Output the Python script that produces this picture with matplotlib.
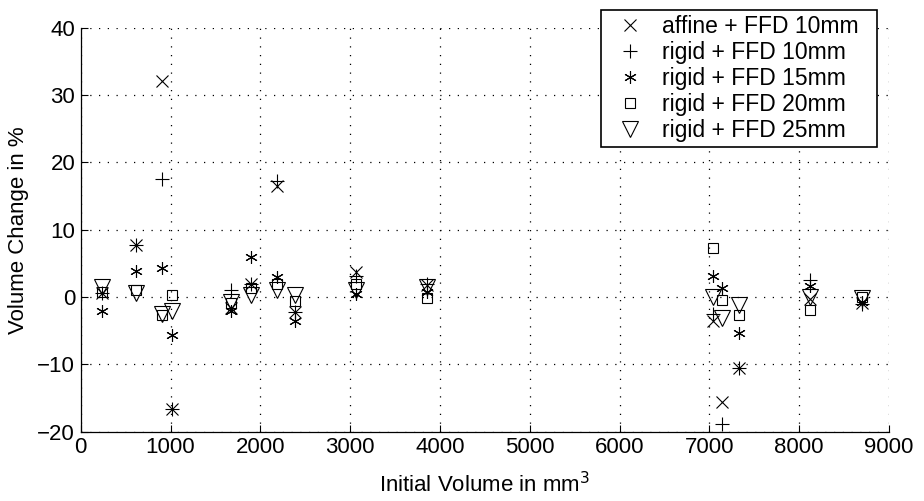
import matplotlib
matplotlib.use("Agg")
import matplotlib.pyplot as plt

plt.rcParams['font.family'] = ['Liberation Sans', 'DejaVu Sans']

volumes = [234, 612, 909, 1013, 1670, 1893, 2190, 2386, 3062, 3860,
           7045, 7138, 7335, 8121, 8697]
affine_10 = [0.6, 7.8, 32.1, -16.7, -1.6, 2.0, 16.5, -2.2, 3.7, 1.8,
             -3.5, -15.6, -10.5, -0.3, -0.9]
rigid_10 = [0.6, 7.8, 17.5, -16.7, 1.0, 2.0, 17.2, -2.2, 3.1, 2.0,
            -2.5, -18.9, -10.5, 2.5, -1.1]
rigid_15 = [-2.1, 3.8, 4.3, -5.7, -2.0, 6.0, 3.0, -3.6, 0.5, 0.8,
            3.1, 1.3, -5.3, 1.7, -0.7]
rigid_20 = [0.7, 1.1, -2.7, 0.25, -0.9, 1.4, 1.9, -0.6, 2.0, -0.2,
            7.3, -0.4, -2.6, -1.9, 0.0]
rigid_25 = [1.5, 0.6, -2.5, -2.0, -0.7, 0.25, 1.0, 0.25, 1.1, 1.5,
            0.0, -3.1, -1.2, 0.0, -0.2]

labels = ['affine + FFD 10mm', 'rigid + FFD 10mm', 'rigid + FFD 15mm',
          'rigid + FFD 20mm', 'rigid + FFD 25mm']
x_ticks = [0, 1000, 2000, 3000, 4000, 5000, 6000, 7000, 8000, 9000]
y_ticks = [-20, -10, 0, 10, 20, 30, 40]

fig = plt.figure(figsize=(9.24, 5.01), dpi=100)
ax = fig.add_axes([80.7/924, 1-431.7/501, (889-80.7)/924, (431.7-27.7)/501])

series = [affine_10, rigid_10, rigid_15, rigid_20, rigid_25]
markers = ['x', '+', (6, 2, 0), 's', 'v']
sizes = [8, 9.5, 9, 7.5, 11.5]
for vals, mk, ms, lab in zip(series, markers, sizes, labels):
    ax.plot(volumes, vals, linestyle='none', marker=mk, markersize=ms,
            markerfacecolor='none', markeredgecolor='black',
            markeredgewidth=0.8, color='black', label=lab)

ax.set_xlim(0, 9000)
ax.set_ylim(-20, 40)
ax.set_xticks(x_ticks)
ax.set_yticks(y_ticks)
ax.set_yticklabels(['\u221220', '\u221210', '0', '10', '20', '30', '40'])
ax.tick_params(direction='in', length=5, width=0.8, labelsize=16, colors='black', pad=4)
ax.spines['top'].set_visible(False)
ax.spines['right'].set_visible(False)
for s in ['left', 'bottom']:
    ax.spines[s].set_linewidth(0.9)
ax.grid(True, linestyle=(0, (1, 6)), linewidth=0.9, color='black')
ax.set_axisbelow(True)

ax.set_xlabel('Initial Volume in mm$^3$', fontsize=16, labelpad=10)
ax.set_ylabel('Volume Change in %', fontsize=16, labelpad=6)

leg = fig.legend(loc='upper left',
                 bbox_to_anchor=(601/924, 1-137/501-10/501, 276/924, 137/501),
                 mode='expand',
                 fontsize=16.5, frameon=True, fancybox=False, borderaxespad=0,
                 handlelength=2.1, handletextpad=0.35, labelspacing=0.13,
                 borderpad=0.22, numpoints=1)
leg.get_frame().set_edgecolor('black')
leg.get_frame().set_linewidth(1.2)
leg.get_frame().set_alpha(1)

fig.savefig('out.png', dpi=100)
